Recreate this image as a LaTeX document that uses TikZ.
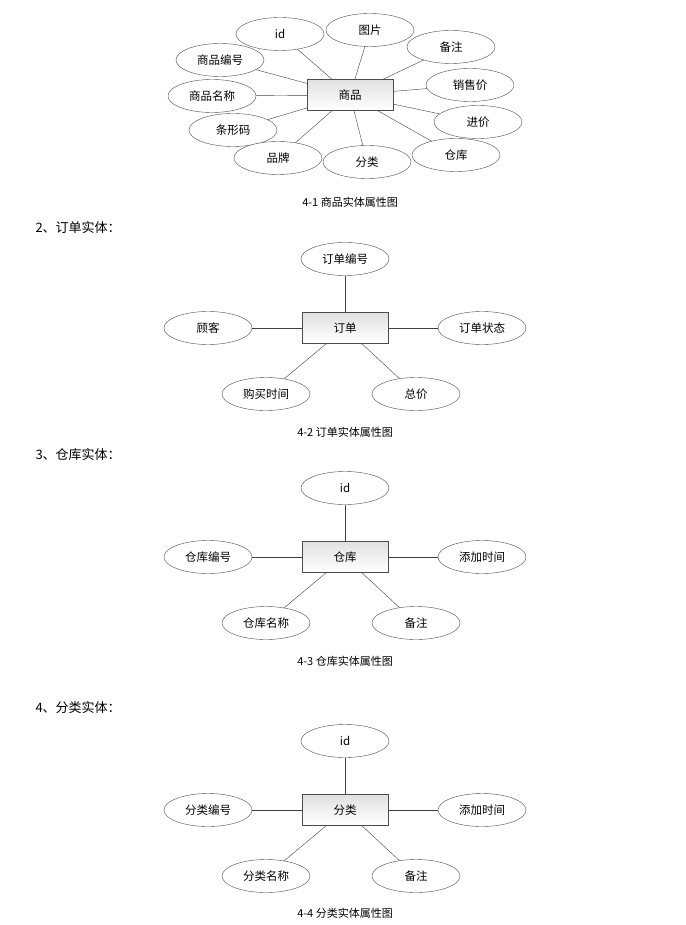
\documentclass[tikz,border=0pt]{standalone}
\usepackage{fontspec}
\setmainfont{Noto Sans CJK SC}
\usetikzlibrary{shapes.geometric}
\begin{document}
\begin{tikzpicture}[x=1pt,y=-1pt,
  attr/.style={ellipse,draw=black!70,fill=white,minimum width=88pt,minimum height=33pt,inner sep=0pt,font=\fontsize{11.5}{13}\selectfont},
  ent/.style={rectangle,draw=black!70,top color=black!12,bottom color=white,minimum width=86pt,minimum height=31pt,font=\fontsize{11.5}{13}\selectfont},
  lk/.style={draw=black!75},
  captext/.style={font=\fontsize{11}{13}\selectfont},
  head/.style={anchor=west,font=\fontsize{13}{15}\selectfont}]
\useasboundingbox (0,0) rectangle (685,925);
% diagram 1
\node[ent] (g) at (350,95) {商品};
\foreach \n/\t/\x/\y in {a/id/280/34, b/图片/370/30, c/备注/451/47, d/商品编号/220/60, e/销售价/470/85, f/商品名称/212/96, h/进价/478/122, i/条形码/233/130, j/仓库/456/155, k/品牌/278/158, l/分类/367/162}{
  \node[attr] (\n) at (\x,\y) {\t};
  \draw[lk] (g) -- (\n);
}
\node[captext] (c1) at (350,202) {4-1 商品实体属性图};
\node[head] (h2) at (32,228) {2、订单实体：};
% diagram 2
\node[ent] (o) at (345,328) {订单};
\foreach \n/\t/\x/\y in {o1/订单编号/345/259, o2/顾客/208/328, o3/订单状态/482/328, o4/购买时间/266/394, o5/总价/416/394}{
  \node[attr] (\n) at (\x,\y) {\t};
  \draw[lk] (o) -- (\n);
}
\node[captext] (c2) at (345,432) {4-2 订单实体属性图};
\node[head] (h3) at (32,455) {3、仓库实体：};
% diagram 3
\node[ent] (w) at (345,557) {仓库};
\foreach \n/\t/\x/\y in {w1/id/345/488, w2/仓库编号/208/557, w3/添加时间/482/557, w4/仓库名称/266/623, w5/备注/416/623}{
  \node[attr] (\n) at (\x,\y) {\t};
  \draw[lk] (w) -- (\n);
}
\node[captext] (c3) at (345,661) {4-3 仓库实体属性图};
\node[head] (h4) at (32,708) {4、分类实体：};
% diagram 4
\node[ent] (s) at (345,810) {分类};
\foreach \n/\t/\x/\y in {s1/id/345/741, s2/分类编号/208/810, s3/添加时间/482/810, s4/分类名称/266/876, s5/备注/416/876}{
  \node[attr] (\n) at (\x,\y) {\t};
  \draw[lk] (s) -- (\n);
}
\node[captext] (c4) at (345,913) {4-4 分类实体属性图};
\end{tikzpicture}
\end{document}
